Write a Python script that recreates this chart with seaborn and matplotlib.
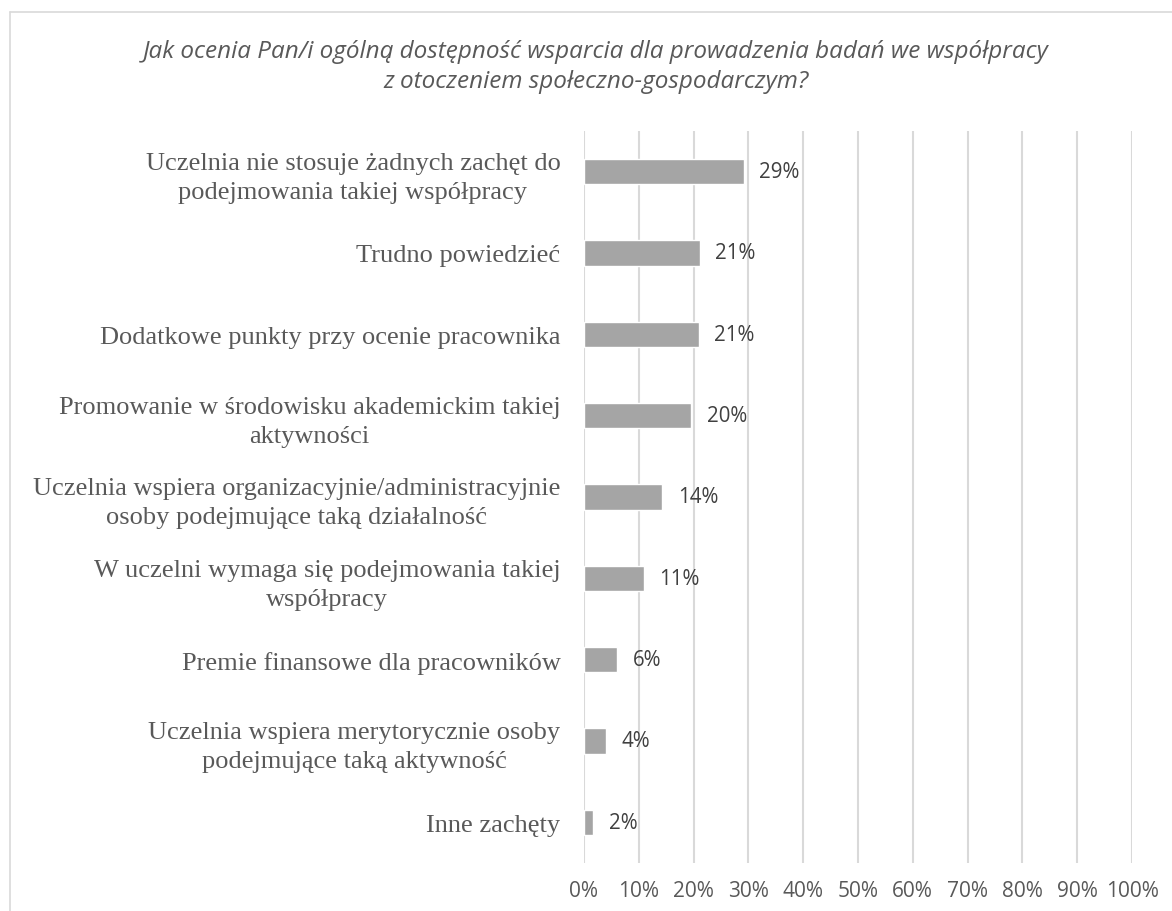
import matplotlib
matplotlib.use("Agg")
import matplotlib.pyplot as plt
from matplotlib.lines import Line2D
from matplotlib.ticker import FixedLocator
import seaborn as sns
import pandas as pd

# Survey answers (share of respondents, %)
categories = [
    "Uczelnia nie stosuje żadnych zachęt do\npodejmowania takiej współpracy",
    "Trudno powiedzieć",
    "Dodatkowe punkty przy ocenie pracownika",
    "Promowanie w środowisku akademickim takiej\naktywności",
    "Uczelnia wspiera organizacyjnie/administracyjnie\nosoby podejmujące taką działalność",
    "W uczelni wymaga się podejmowania takiej\nwspółpracy",
    "Premie finansowe dla pracowników",
    "Uczelnia wspiera merytorycznie osoby\npodejmujące taką aktywność",
    "Inne zachęty",
]
values = [29.2, 21.2, 21.0, 19.6, 14.3, 10.9, 6.1, 4.0, 1.7]
value_labels = ["29%", "21%", "21%", "20%", "14%", "11%", "6%", "4%", "2%"]
x_ticks = [0, 10, 20, 30, 40, 50, 60, 70, 80, 90, 100]
x_tick_labels = [f"{t}%" for t in x_ticks]
title = ("Jak ocenia Pan/i ogólną dostępność wsparcia dla prowadzenia badań we współpracy\n"
         "z otoczeniem społeczno-gospodarczym?")

df = pd.DataFrame({"kategoria": categories, "udzial": values})

sns.set_theme(style="white")
plt.rcParams["font.family"] = ["Open Sans", "DejaVu Sans"]

fig = plt.figure(figsize=(11.72, 9.12), dpi=100)
ax = fig.add_axes([584 / 1172, 48 / 912, 548 / 1172, 732 / 912])

sns.barplot(data=df, x="udzial", y="kategoria", orient="h", color="#a5a5a5",
            width=0.31, saturation=1, ax=ax, zorder=3)

ax.set_xlim(0, 100)
ax.set_ylim(len(categories) - 0.5, -0.5)
ax.xaxis.set_major_locator(FixedLocator(x_ticks))
ax.set_xticklabels(x_tick_labels)
ax.grid(axis="x", color="#d9d9d9", linewidth=1.5, zorder=0)
ax.grid(axis="y", visible=False)
for s in ax.spines.values():
    s.set_visible(False)
ax.set_xlabel("")
ax.set_ylabel("")
ax.tick_params(axis="x", length=0, pad=12, labelsize=15, labelcolor="#595959")
ax.tick_params(axis="y", length=0, pad=17, labelsize=19, labelcolor="#595959")
for t in ax.get_yticklabels():
    t.set_family(["Liberation Serif", "DejaVu Serif"])
    t.set_multialignment("center")
    t.set_linespacing(1.4)

ax.bar_label(ax.containers[0], labels=value_labels, padding=11,
             fontsize=14.8, color="#404040")

fig.text(596 / 1172, 1 - 67 / 912, title, ha="center", va="center",
         fontsize=17.5, style="italic", color="#595959", linespacing=1.3)

# chart area frame (top and left edges)
fig.add_artist(Line2D([10 / 1172, 10 / 1172], [0, 1 - 13 / 912],
                      transform=fig.transFigure, color="#d9d9d9", linewidth=1.2))
fig.add_artist(Line2D([10 / 1172, 1], [1 - 13 / 912, 1 - 13 / 912],
                      transform=fig.transFigure, color="#d9d9d9", linewidth=1.2))

fig.savefig("out.png", dpi=100, facecolor="white")
